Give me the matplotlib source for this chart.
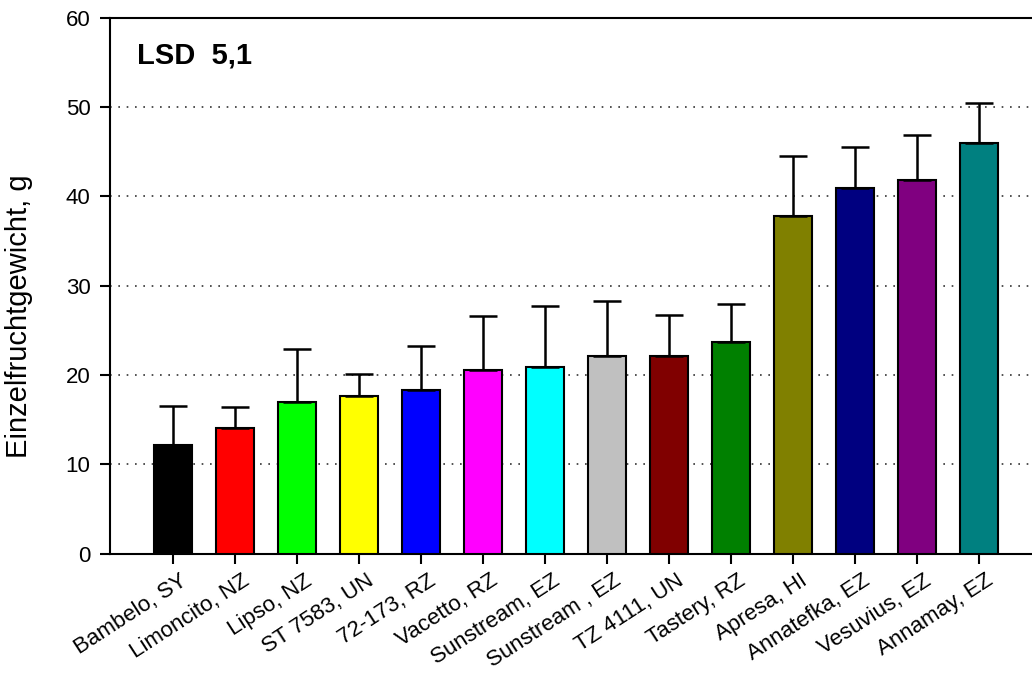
import matplotlib
matplotlib.use("Agg")
import matplotlib.pyplot as plt
import matplotlib.transforms as mtransforms
import numpy as np

categories = ["Bambelo, SY", "Limoncito, NZ", "Lipso, NZ", "ST 7583, UN", "72-173, RZ",
              "Vacetto, RZ", "Sunstream, EZ", "Sunstream , EZ", "TZ 4111, UN", "Tastery, RZ",
              "Apresa, HI", "Annatefka, EZ", "Vesuvius, EZ", "Annamay, EZ"]
means = [12.1, 14.1, 17.0, 17.6, 18.3, 20.5, 20.9, 22.1, 22.1, 23.7, 37.8, 40.9, 41.8, 45.9]
upper = [16.5, 16.4, 22.9, 20.1, 23.2, 26.6, 27.7, 28.25, 26.75, 27.95, 44.5, 45.5, 46.9, 50.4]
errors = [u - m for u, m in zip(upper, means)]
colors = ["#000000", "#FF0000", "#00FF00", "#FFFF00", "#0000FF", "#FF00FF", "#00FFFF",
          "#C0C0C0", "#800000", "#008000", "#808000", "#000080", "#800080", "#008080"]
yticks = [0, 10, 20, 30, 40, 50, 60]

plt.rcParams['font.family'] = ['Liberation Sans', 'DejaVu Sans']

fig = plt.figure(figsize=(10.32, 6.75), dpi=100)
ax = fig.add_axes([0.1066, 0.18, 0.902, 0.794])

x = np.arange(len(categories))
ax.bar(x, means, width=0.61, color=colors, edgecolor="black", linewidth=1.5, zorder=3)
ax.errorbar(x, means, yerr=[np.zeros(len(x)), errors], fmt="none", ecolor="black",
            elinewidth=1.8, capsize=10, capthick=1.8, zorder=4)

ax.set_xlim(-1.016, 14.0)
ax.set_ylim(0, 60)
ax.set_yticks(yticks)
ax.set_yticklabels([str(v) for v in yticks], fontsize=16)
ax.set_xticks(x)
ax.set_xticklabels(categories, rotation=33, ha="right", va="top",
                   rotation_mode="anchor", fontsize=16)
ax.tick_params(axis="both", direction="out", length=7, width=1.5, color="black")
ax.tick_params(axis="y", pad=7)
ax.tick_params(axis="x", pad=5)
offset = mtransforms.ScaledTranslation(7 / 100, 0, fig.dpi_scale_trans)
for lbl in ax.get_xticklabels():
    lbl.set_transform(lbl.get_transform() + offset)

for yv in [10, 20, 30, 40, 50]:
    ax.axhline(yv, color="#333333", linestyle=(0, (1, 4)), linewidth=1.2, zorder=1)

for s in ["left", "bottom", "top"]:
    ax.spines[s].set_linewidth(1.5)
ax.spines["right"].set_visible(False)

ax.set_ylabel("Einzelfruchtgewicht, g", fontsize=21)
ax.yaxis.set_label_coords(-0.083, 0.443)
fig.text(0.133, 0.918, "LSD  5,1", fontsize=21, fontweight="bold", va="center", ha="left")

fig.savefig("out.png", dpi=100)
